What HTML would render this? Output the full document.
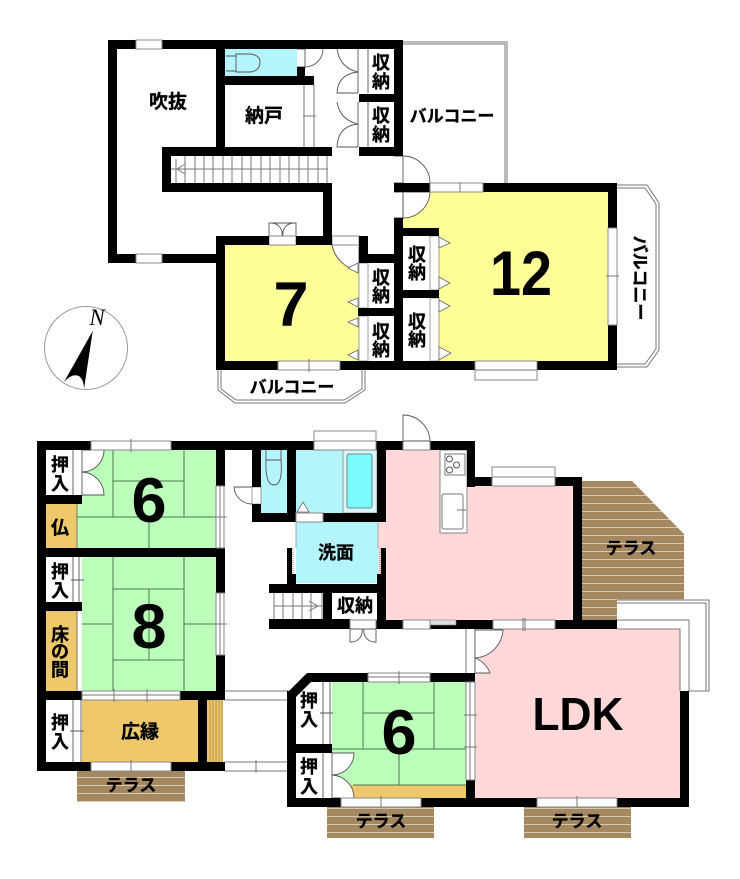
<!DOCTYPE html>
<html><head><meta charset="utf-8"><style>
html,body{margin:0;padding:0;background:#fff}
svg{display:block}
text{font-family:"Liberation Sans","Noto Sans CJK JP",sans-serif;font-weight:700;fill:#000;text-anchor:middle}
.l{font-size:18px;stroke:#000;stroke-width:.3}
.k{font-size:17px;stroke:#000;stroke-width:.3}
.n{font-size:63px}
.g{fill:none;stroke:#777;stroke-width:1}
.d{fill:none;stroke:#555;stroke-width:.9}
.f{fill:#fff;stroke:#555;stroke-width:.9}
.t{fill:none;stroke:#4f7a4f;stroke-width:1}
.w{fill:#fff;stroke:#888;stroke-width:1}
</style></head><body>
<svg width="740" height="879" viewBox="0 0 740 879" xmlns="http://www.w3.org/2000/svg">
<defs>
<pattern id="p1" patternUnits="userSpaceOnUse" width="8" height="8" y="487"><rect width="8" height="8" fill="#a58760"/><rect width="8" height="1" fill="#d5c8b0"/></pattern>
<pattern id="p2" patternUnits="userSpaceOnUse" width="8" height="8" y="777"><rect width="8" height="8" fill="#a58760"/><rect width="8" height="1" fill="#d5c8b0"/></pattern>
<pattern id="p3" patternUnits="userSpaceOnUse" width="8" height="8" y="816"><rect width="8" height="8" fill="#a58760"/><rect width="8" height="1" fill="#d5c8b0"/></pattern>
</defs>

<!-- upper floor fills -->
<rect x="225" y="49" width="72" height="27" fill="#b3f5fb"/>
<path d="M225 245H359V361H225Z" fill="#ffff99"/>
<path d="M403 192H608V361H403Z" fill="#ffff99"/>
<rect x="403" y="236" width="36" height="125" fill="#fff"/>
<path d="M403 192H430A27 27 0 0 1 403 218Z" class="f"/>
<path d="M332 245H359V271A33 33 0 0 1 332 245Z" class="f"/>

<!-- balconies -->
<path class="g" d="M403 42H507V183M403 44H505V183"/>
<path class="g" d="M617 185H647L659 203V350L647 367H617M617 188H645L656 204V349L645 364H617"/>
<path class="g" d="M218 370V390L235 403H345L365 390V370M221 370V389L236 400H344L362 389V370"/>

<!-- upper toilet -->
<path class="d" d="M226 56H236V71H226M236 54H250Q260 55 260 62Q260 71 250 72H236Z"/>

<!-- upper stairs -->
<path class="g" d="M171 169H328M176 159V183M185 156V183M195 156V183M204 156V183M213 156V183M223 156V183M232 156V183M242 156V183M251 156V183M261 156V183M270 156V183M280 156V183M289 156V183M299 156V183M308 156V183M318 156V183M327 156V183"/>
<path class="g" d="M185 164L177 169L185 174"/>

<!-- storeroom sliding door -->
<path class="g" d="M304 85V147M314 85V147M303 116H316"/>

<!-- upper doors -->
<path class="d" d="M305 49A18 18 0 0 1 323 49"/>
<path class="d" d="M297 49H305V67H297M305 67A18 18 0 0 0 323 49"/>
<path class="d" d="M337 49Q340 68 358 72Q338 74 337 93H358M358 49V93M368 49V93"/>
<path class="d" d="M337 102Q340 120 358 124Q338 126 337 147H358M358 102V147M368 102V147"/>
<path class="d" d="M394 156H403V183H394M403 156A27 27 0 0 1 430 183"/>
<path class="d" d="M394 192H403V218H394"/>
<path class="d" d="M269 236V223H296V236M269 223H272A11 11 0 0 1 282 236M296 223H293A11 11 0 0 0 283 236"/>
<rect x="269" y="236" width="27" height="9" class="w"/>
<rect x="332" y="236" width="27" height="9" class="w"/>

<!-- upper storage doors -->
<rect x="359" y="263" width="9" height="45" fill="#fff" stroke="#888" stroke-width=".8"/>
<rect x="359" y="316" width="9" height="45" fill="#fff" stroke="#888" stroke-width=".8"/>
<rect x="430" y="236" width="9" height="54" fill="#fff" stroke="#888" stroke-width=".8"/>
<rect x="430" y="298" width="9" height="63" fill="#fff" stroke="#888" stroke-width=".8"/>
<path d="M439 237L450 243 439 248ZM439 277L450 283 439 289ZM439 300L450 306 439 312ZM439 347L451 353 439 360Z" fill="#fff" stroke="#666" stroke-width=".8"/>
<path d="M358 263L348 268 358 273ZM358 298L348 302 358 307ZM358 318L348 322 358 327ZM358 350L348 355 358 360Z" fill="#fff" stroke="#666" stroke-width=".8"/>

<!-- upper walls -->
<g fill="#000">
<rect x="108" y="40" width="295" height="9"/>
<rect x="108" y="40" width="9" height="223"/>
<rect x="108" y="254" width="117" height="9"/>
<rect x="216" y="49" width="9" height="98"/>
<rect x="225" y="76" width="89" height="9"/>
<rect x="297" y="67" width="8" height="9"/>
<rect x="162" y="147" width="170" height="9"/>
<rect x="162" y="147" width="9" height="45"/>
<rect x="162" y="183" width="170" height="9"/>
<rect x="323" y="183" width="9" height="62"/>
<rect x="216" y="236" width="53" height="9"/>
<rect x="296" y="236" width="36" height="9"/>
<rect x="216" y="236" width="9" height="134"/>
<rect x="359" y="236" width="9" height="27"/>
<rect x="359" y="254" width="44" height="9"/>
<rect x="394" y="218" width="9" height="152"/>
<rect x="394" y="40" width="9" height="116"/>
<rect x="359" y="147" width="44" height="9"/>
<rect x="359" y="94" width="44" height="8"/>
<rect x="394" y="183" width="36" height="9"/>
<rect x="483" y="183" width="134" height="9"/>
<rect x="608" y="183" width="9" height="45"/>
<rect x="608" y="325" width="9" height="45"/>
<rect x="216" y="361" width="62" height="9"/>
<rect x="340" y="361" width="135" height="9"/>
<rect x="537" y="361" width="80" height="9"/>
<rect x="394" y="228" width="45" height="8"/>
<rect x="394" y="290" width="45" height="8"/>
<rect x="358" y="308" width="37" height="8"/>
</g>

<!-- upper windows -->
<rect x="136" y="40" width="26" height="9" class="w"/>
<rect x="136" y="254" width="26" height="9" class="w"/>
<rect x="430" y="183" width="53" height="9" class="w"/><path class="g" d="M460 183V192"/>
<rect x="608" y="228" width="9" height="97" class="w"/><path class="g" d="M606 276H619"/>
<rect x="278" y="361" width="62" height="9" class="w"/><path class="g" d="M309 359V372"/>
<path class="w" d="M475 361H537V380H475Z"/><path class="g" d="M475 370H537"/>

<!-- upper labels -->
<text class="l" x="168" y="108" style="font-size:19px">吹抜</text>
<text class="l" x="264" y="122" style="font-size:19px">納戸</text>
<text class="l" x="381" y="69">収</text><text class="l" x="381" y="88">納</text>
<text class="l" x="381" y="122">収</text><text class="l" x="381" y="141">納</text>
<text class="l" x="381" y="284">収</text><text class="l" x="381" y="302">納</text>
<text class="l" x="381" y="338">収</text><text class="l" x="381" y="356">納</text>
<text class="l" x="417" y="261">収</text><text class="l" x="417" y="279">納</text>
<text class="l" x="417" y="328">収</text><text class="l" x="417" y="346">納</text>
<text class="k" x="452" y="122">バルコニー</text>
<text class="k" x="292" y="393">バルコニー</text>
<text class="k" transform="translate(640,278) rotate(90)" x="0" y="6">バルコニー</text>
<text class="n" x="521" y="295" textLength="62" lengthAdjust="spacingAndGlyphs">12</text>
<text class="n" x="291" y="326">7</text>

<!-- compass -->
<circle cx="86" cy="348" r="41.500" fill="#fff" stroke="#999" stroke-width="1"/>
<path d="M92.700 331L64 382Q72 373 79 376Q84 380 84 389Z" fill="#000"/>
<text x="97" y="325" style="font-family:'Liberation Serif',serif;font-style:italic;font-weight:400;font-size:23px">N</text>

<!-- lower floor fills -->
<rect x="46" y="504" width="31" height="44" fill="#eec86b"/>
<rect x="46" y="611" width="31" height="80" fill="#eec86b"/>
<path d="M82 450H216V548H77V504H82Z" fill="#bbffbb"/>
<rect x="82" y="557" width="134" height="134" fill="#bbffbb"/>
<rect x="82" y="700" width="116" height="62" fill="#eec86b"/>
<rect x="207" y="700" width="16" height="62" fill="#eec86b"/>
<path class="g" style="stroke:#b0945a" d="M210 700V762M213 700V762M216 700V762M219 700V762M222 700V762"/>
<rect x="261" y="450" width="26" height="63" fill="#b3f5fb"/>
<rect x="296" y="450" width="81" height="63" fill="#b3f5fb"/>
<rect x="296" y="522" width="82" height="61" fill="#b3f5fb"/>
<path d="M386 450H467V486H573V620H386Z" fill="#ffd9d9"/>
<rect x="378" y="522" width="8" height="52" fill="#ffd9d9"/>
<rect x="475" y="629" width="205" height="169" fill="#ffd9d9"/>
<rect x="332" y="682" width="134" height="103" fill="#bbffbb"/>
<rect x="332" y="785" width="134" height="13" fill="#eec86b"/>

<!-- terraces -->
<path d="M582 481H632L684 534V600H617V620H582Z" fill="url(#p1)"/>
<rect x="77" y="771" width="108" height="31" fill="url(#p2)"/>
<rect x="327" y="807" width="107" height="31" fill="url(#p3)"/>
<rect x="524" y="807" width="107" height="31" fill="url(#p3)"/>

<!-- tatami -->
<path class="t" d="M113 450V517M184 450V517M113 481H184M77 517H216M149 517V548"/>
<path class="t" d="M113 557V691M184 557V691M113 589H184M82 624H113M184 624H216M149 589V660M113 660H184"/>
<path class="t" d="M363 682V749M434 682V749M363 713H434M332 749H466M399 749V785M353 785H466"/>
<path d="M77 504V548M77 611V691" stroke="#776" fill="none"/>

<!-- lower closets -->
<path class="f" d="M82 450V495H104A23 23 0 0 0 82 472A22 22 0 0 0 104 450Z"/>
<path class="d" d="M73 450V495"/>
<path class="d" d="M73 557V602M79 557V602M71 580H84"/>
<path class="d" d="M73 700V762M81 700V762M70 731H84"/>
<path class="f" d="M332 753V798H354A23 23 0 0 0 332 775A22 22 0 0 0 354 753Z"/>
<path class="d" d="M323 753V798"/>
<path class="d" d="M323 682V744M330 682V744M320 713H333"/>

<!-- lower wc -->
<path class="d" d="M266 450V460H281V450M266 460Q265 485 274 485Q283 485 281 460"/>
<rect x="252" y="487" width="9" height="17" fill="#fff" stroke="#888" stroke-width=".8"/>
<path class="d" d="M252 487H234A18 18 0 0 0 252 504"/>

<!-- bath -->
<rect x="343" y="450" width="34" height="63" fill="#d8f6f8" stroke="#888" stroke-width=".8"/>
<rect x="347" y="454" width="25" height="54" rx="2" fill="#7dfcff" stroke="#666" stroke-width=".8"/>
<path d="M297 512L303 502 309 512Z" fill="#fff" stroke="#666" stroke-width=".8"/>

<!-- lower stairs -->
<path class="g" d="M274 593V619M283 593V619M293 593V619M302 593V619M311 593V619M322 593V619M274 606H322M309 601L318 606 309 611"/>

<!-- kitchen -->
<rect x="440" y="450" width="27" height="83" fill="#fff" stroke="#888"/>
<rect x="445" y="454" width="20" height="21" fill="#fff" stroke="#777"/>
<circle cx="449.500" cy="459" r="3" fill="#fff" stroke="#555"/>
<circle cx="456.500" cy="465" r="3" fill="#fff" stroke="#555"/>
<circle cx="449.500" cy="470" r="3" fill="#fff" stroke="#555"/>
<rect x="442" y="494" width="21" height="35" rx="2" fill="#fff" stroke="#777"/>
<path class="g" d="M457 510H466"/>

<!-- outdoor connecting lines -->
<path class="g" d="M225 691H288M225 700H288M225 762H288M225 771H288M256 760V773"/>
<path class="g" d="M466 629V673M475 629V673"/>
<path class="g" d="M617 600H709V691H689M617 603H706V691M617 620H689V691M617 629H680V691"/>

<!-- ldk door -->
<path class="f" d="M475 630H503A30 30 0 0 1 475 658Z"/>
<path class="f" d="M475 658A26 26 0 0 1 490 673H475Z"/>

<!-- lower walls -->
<g fill="#000">
<rect x="37" y="441" width="54" height="9"/>
<rect x="171" y="441" width="143" height="9"/>
<rect x="376" y="441" width="27" height="9"/>
<rect x="430" y="441" width="45" height="9"/>
<rect x="37" y="441" width="9" height="330"/>
<rect x="216" y="441" width="9" height="45"/>
<rect x="37" y="548" width="188" height="9"/>
<rect x="216" y="548" width="9" height="45"/>
<rect x="216" y="655" width="9" height="45"/>
<rect x="37" y="495" width="45" height="9"/>
<rect x="37" y="602" width="45" height="9"/>
<rect x="37" y="691" width="45" height="9"/>
<rect x="180" y="691" width="45" height="9"/>
<rect x="198" y="691" width="9" height="80"/>
<rect x="37" y="762" width="54" height="9"/>
<rect x="171" y="762" width="54" height="9"/>
<rect x="252" y="441" width="9" height="46"/>
<rect x="252" y="504" width="9" height="18"/>
<rect x="252" y="513" width="44" height="9"/>
<rect x="287" y="441" width="9" height="81"/>
<rect x="323" y="513" width="63" height="9"/>
<rect x="377" y="441" width="9" height="81"/>
<rect x="287" y="548" width="5" height="26"/>
<rect x="287" y="574" width="9" height="10"/>
<rect x="381" y="548" width="5" height="26"/>
<rect x="377" y="574" width="9" height="55"/>
<rect x="269" y="584" width="117" height="9"/>
<rect x="269" y="619" width="81" height="10"/>
<rect x="323" y="593" width="9" height="26"/>
<rect x="376" y="620" width="27" height="9"/>
<rect x="430" y="625" width="63" height="4"/>
<rect x="456" y="620" width="37" height="9"/>
<rect x="555" y="620" width="62" height="9"/>
<rect x="467" y="441" width="8" height="46"/>
<rect x="467" y="477" width="25" height="9"/>
<rect x="555" y="477" width="27" height="9"/>
<rect x="573" y="477" width="9" height="152"/>
<rect x="680" y="691" width="9" height="116"/>
<rect x="421" y="798" width="116" height="9"/>
<rect x="617" y="798" width="72" height="9"/>
<rect x="287" y="798" width="54" height="9"/>
<rect x="287" y="691" width="9" height="116"/>
<rect x="287" y="744" width="45" height="9"/>
<path d="M307 673H368V682H311L296 697V700H287V693Z"/>
<rect x="430" y="673" width="45" height="9"/>
<rect x="466" y="780" width="9" height="18"/>
</g>
<rect x="430" y="620" width="26" height="5" fill="#ddd" stroke="#888" stroke-width=".6"/>

<!-- lower windows and openings -->
<rect x="91" y="441" width="80" height="9" class="w"/><path class="g" d="M131 439V452"/>
<rect x="216" y="486" width="8" height="62" class="w"/><path class="g" d="M220 486V548M214 517H227"/>
<rect x="216" y="593" width="8" height="62" class="w"/><path class="g" d="M220 593V655M214 624H227"/>
<rect x="82" y="691" width="98" height="9" class="w"/><path class="g" d="M82 695H180M114 689V702M147 689V702"/>
<rect x="91" y="762" width="80" height="9" class="w"/><path class="g" d="M131 760V771"/>
<path class="w" d="M314 441V431H376V441Z"/><rect x="314" y="441" width="62" height="9" class="w"/>
<rect x="403" y="441" width="27" height="9" class="w"/>
<path class="f" d="M403 441V415A27 27 0 0 1 430 441Z"/>
<rect x="296" y="513" width="27" height="9" class="w"/>
<path class="w" d="M492 477V467H555V477Z"/><rect x="492" y="477" width="63" height="9" class="w"/>
<rect x="493" y="620" width="62" height="9" class="w"/><path class="g" d="M523 618V631M525 618V631"/>
<rect x="403" y="620" width="27" height="9" class="w"/>
<rect x="350" y="620" width="26" height="9" class="w"/>
<path class="f" d="M350 629V642H352A11 11 0 0 0 362 629ZM376 629V642H374A11 11 0 0 1 364 629Z"/>
<rect x="368" y="673" width="62" height="9" class="w"/><path class="g" d="M368 677H430M399 671V684"/>
<rect x="466" y="682" width="9" height="98" class="w"/><path class="g" d="M470 682V780M464 715H477M464 747H477"/>
<rect x="341" y="798" width="80" height="9" class="w"/><path class="g" d="M381 796V807"/>
<rect x="537" y="798" width="80" height="9" class="w"/><path class="g" d="M577 796V807"/>
<path d="M293 548V574" stroke="#777" stroke-width="1" stroke-dasharray="1 1" fill="none"/>
<path d="M380 548V574" stroke="#777" stroke-width="1" stroke-dasharray="1 1" fill="none"/>
<path d="M296 522V548M378 522V548" stroke="#aaa" stroke-width="1" fill="none"/>

<!-- lower labels -->
<text class="l" x="60" y="471">押</text><text class="l" x="60" y="490">入</text>
<text class="l" x="60" y="534">仏</text>
<text class="l" x="60" y="578">押</text><text class="l" x="60" y="597">入</text>
<text class="l" x="60" y="641">床</text><text class="l" x="60" y="658">の</text><text class="l" x="60" y="676">間</text>
<text class="l" x="60" y="729">押</text><text class="l" x="60" y="748">入</text>
<text class="l" x="140" y="738" style="font-size:19px">広縁</text>
<text class="k" x="131" y="791">テラス</text>
<text class="k" x="631" y="554">テラス</text>
<text class="k" x="381" y="827">テラス</text>
<text class="k" x="577" y="827">テラス</text>
<text class="l" x="309" y="707">押</text><text class="l" x="309" y="726">入</text>
<text class="l" x="309" y="773">押</text><text class="l" x="309" y="793">入</text>
<text class="l" x="336" y="559">洗面</text>
<text class="l" x="355" y="612">収納</text>
<text class="n" x="149" y="522">6</text>
<text class="n" x="149" y="648">8</text>
<text class="n" x="399" y="754">6</text>
<text x="578" y="730" style="font-size:46px" textLength="91" lengthAdjust="spacingAndGlyphs">LDK</text>
</svg>
</body></html>
